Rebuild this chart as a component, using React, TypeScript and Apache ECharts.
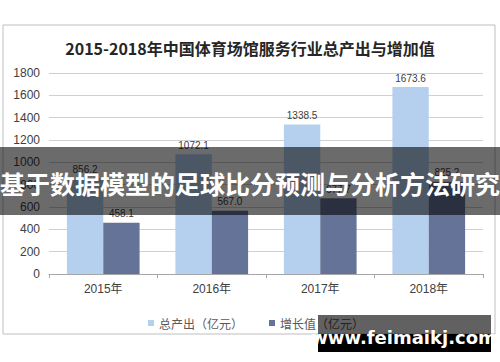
import React, { useEffect, useRef } from "react";
import * as echarts from "echarts";

const categories = ["2015年", "2016年", "2017年", "2018年"];
const totalOutput = [856.2, 1072.1, 1338.5, 1673.6];
const addedValue = [458.1, 567.0, 677.7, 825.2];
const seriesNames = ["总产出（亿元）", "增长值（亿元）"];
const titleText = "2015-2018年中国体育场馆服务行业总产出与增加值";
const bannerText = "基于数据模型的足球比分预测与分析方法研究";
const watermarkText = "www.feimaikj.com";

export default function App() {
  const ref = useRef<HTMLDivElement>(null);
  useEffect(() => {
    document.body.style.margin = "0";
    const chart = echarts.init(ref.current!, null, { renderer: "svg" });
    const font = "'Liberation Sans', 'Noto Sans CJK SC', sans-serif";
    const label = {
      show: true,
      position: "top" as const,
      distance: 4,
      fontSize: 10,
      color: "#404040",
      fontFamily: font,
      formatter: (p: any) => Number(p.value).toFixed(1),
    };
    chart.setOption({
      animation: false,
      backgroundColor: "#ffffff",
      title: {
        text: titleText,
        left: "center",
        top: 35,
        textStyle: {
          fontSize: 16,
          fontWeight: "bold",
          color: "#262626",
          fontFamily: "'Noto Sans CJK SC', serif",
        },
      },
      grid: { left: 49, right: 17, top: 73, bottom: 88 },
      legend: {
        left: 143,
        top: 312,
        itemWidth: 6,
        itemHeight: 6,
        itemGap: 26,
        icon: "rect",
        textStyle: { fontSize: 12, color: "#595959", fontFamily: "'Noto Sans CJK SC', sans-serif" },
        data: seriesNames,
      },
      xAxis: {
        type: "category",
        data: categories,
        axisLine: { lineStyle: { color: "#a6a6a6" } },
        axisTick: { show: true, length: 4, lineStyle: { color: "#a6a6a6" } },
        axisLabel: { fontSize: 12, color: "#404040", margin: 9, fontFamily: font },
      },
      yAxis: {
        type: "value",
        min: 0,
        max: 1800,
        interval: 200,
        axisLine: { show: false },
        axisTick: { show: false },
        axisLabel: {
          fontSize: 12,
          color: "#404040",
          margin: 9,
          fontFamily: font,
          formatter: (v: number) => String(v),
        },
        splitLine: { lineStyle: { color: "#d0d0d0", width: 1 } },
      },
      series: [
        {
          name: seriesNames[0],
          type: "bar",
          data: totalOutput,
          barGap: "0%",
          barCategoryGap: "33%",
          itemStyle: { color: "#b4d0ee" },
          label,
        },
        {
          name: seriesNames[1],
          type: "bar",
          data: addedValue,
          barGap: "0%",
          barCategoryGap: "33%",
          itemStyle: { color: "#667399" },
          label,
        },
      ],
      graphic: [
        {
          type: "rect",
          z: 0,
          silent: true,
          shape: { x: 3, y: 25, width: 492, height: 309 },
          style: { fill: "none", stroke: "#bfbfbf", lineWidth: 1 },
        },
        {
          type: "rect",
          z: 100,
          shape: { x: 0, y: 147, width: 500, height: 68 },
          style: { fill: "rgba(0,0,0,0.58)" },
        },
        {
          type: "text",
          z: 101,
          x: 250,
          y: 183,
          style: {
            text: bannerText,
            fill: "#ffffff",
            font: "bold 25px 'Noto Sans CJK SC', sans-serif",
            textAlign: "center",
            textVerticalAlign: "middle",
          },
        },
        {
          type: "rect",
          z: 100,
          shape: { x: 318, y: 315, width: 173, height: 19 },
          style: { fill: "rgba(0,0,0,0.62)" },
        },
        {
          type: "rect",
          z: 100,
          shape: { x: 318, y: 334, width: 173, height: 18 },
          style: { fill: "#000000" },
        },
        {
          type: "text",
          z: 101,
          x: 404,
          y: 337,
          style: {
            text: watermarkText,
            fill: "#ffffff",
            font: "bold 18px 'DejaVu Sans', sans-serif",
            textAlign: "center",
            textVerticalAlign: "middle",
          },
        },
      ],
    });
    return () => chart.dispose();
  }, []);
  return <div ref={ref} style={{ width: 500, height: 362 }} />;
}
